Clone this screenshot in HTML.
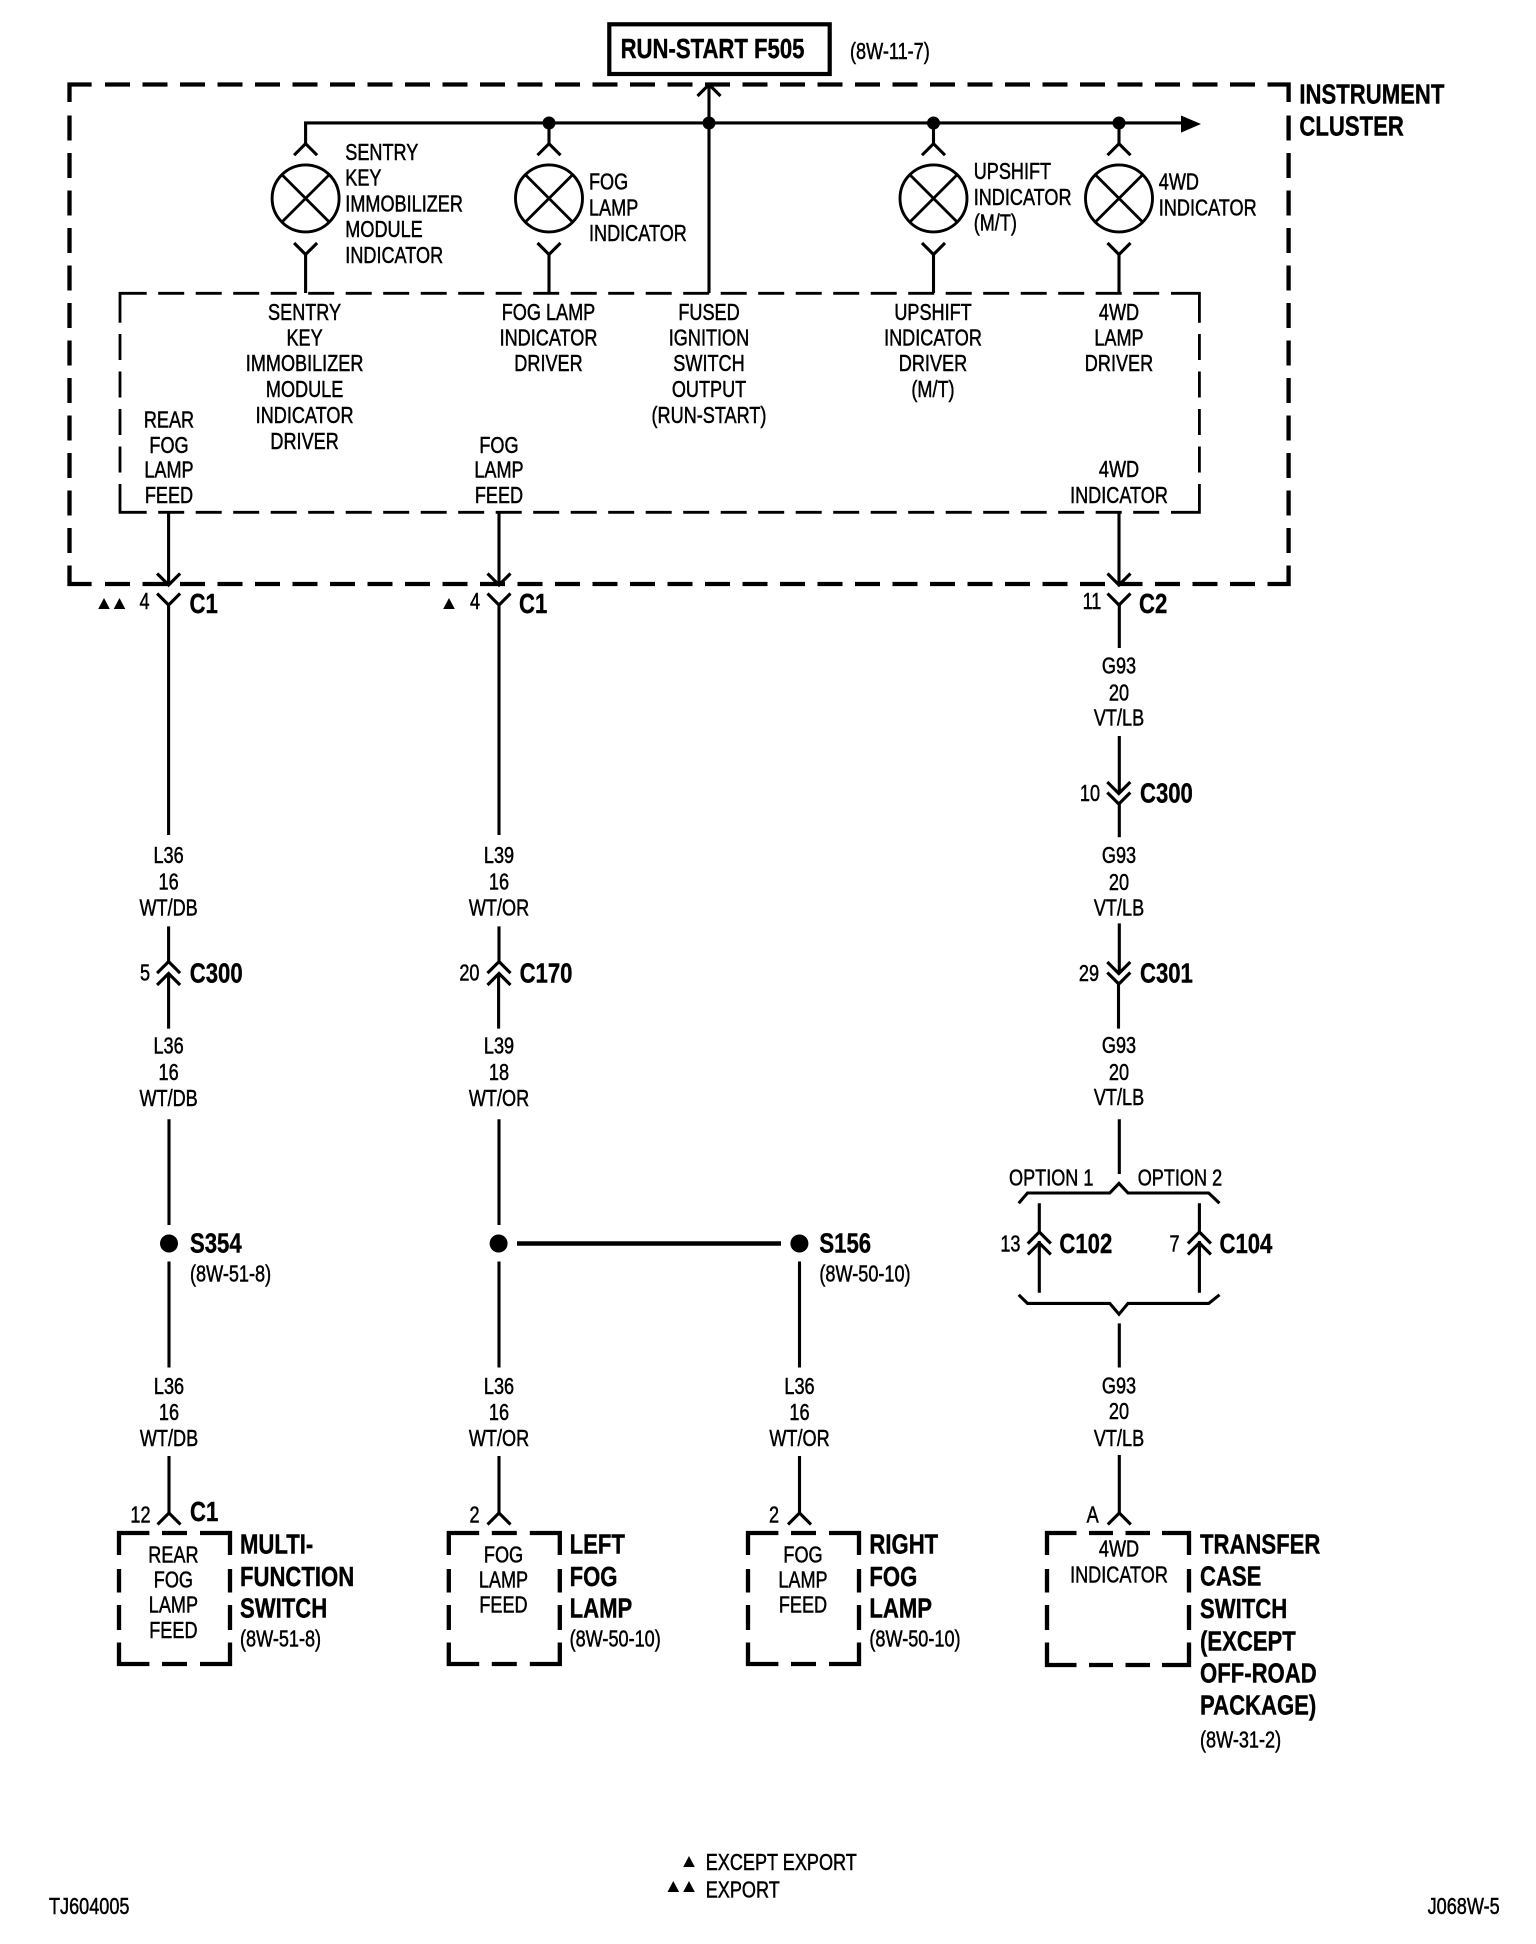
<!DOCTYPE html>
<html lang="en"><head><meta charset="utf-8"><title>Wiring diagram</title>
<style>
html,body{margin:0;padding:0;background:#fff}
svg{display:block}
text{font-family:"Liberation Sans",Arial,sans-serif;font-size:23.5px;fill:#000;stroke:#000;stroke-width:.5px}
.c,.l{transform:translateY(-.9px) scaleX(.77);transform-box:fill-box}
.c{text-anchor:middle;transform-origin:50% 50%}
.l{text-anchor:start;transform-origin:0 50%}
.b{font-weight:700;font-size:28px;transform:translateY(-1.4px) scaleX(.79);stroke-width:.4px}
.w{fill:none;stroke:#000;stroke-width:3.1}
.o{fill:none;stroke:#000;stroke-width:4.3}
.d{stroke-dasharray:25 12.5}
.i{fill:none;stroke:#000;stroke-width:2.8}
.e{stroke-dasharray:26 11.5}
</style></head><body>
<svg xmlns="http://www.w3.org/2000/svg" width="1536" height="1944" viewBox="0 0 1536 1944">
<rect width="1536" height="1944" fill="#fff"/>
<defs>
<path id="up" class="w" d="M-11.5 11.5L0 0L11.5 11.5"/>
<path id="dn" class="w" d="M-11.5 -11.5L0 0L11.5 -11.5"/>
<g id="lamp"><circle r="33.5" fill="none" stroke="#000" stroke-width="2.9"/><path class="i" d="M-23.5 -23.5L23.5 23.5M23.5 -23.5L-23.5 23.5"/></g>
<path id="box" class="o" d="M30.4 0H0V22M0 36V59.5M0 72V97M0 109.5V131H30.4M43 0H68M43 131H68M81 0H111V22M111 36V59.5M111 72V97M111 109.5V131H81"/>
<path id="tri" d="M0 -11L5.8 0H-5.8Z" fill="#000"/>
</defs>

<!-- top fuse -->
<rect x="609.3" y="24.3" width="220.4" height="49.7" fill="none" stroke="#000" stroke-width="4.2"/>
<text class="l b" x="620.6" y="59.5">RUN-START F505</text>
<text class="l" x="850" y="60">(8W-11-7)</text>

<!-- outer dashed -->
<path class="o" d="M69.5 102V84.5H91.6M69.5 565.5V584H91.6M1267.5 84.5H1288.6V102M1267.5 584H1288.6V565.5"/>
<path class="o d" d="M105 84.5H1260M105 584H1260M69.5 115.5V556M1288.6 115.5V556"/>
<text class="l b" x="1299.4" y="105">INSTRUMENT</text>
<text class="l b" x="1299.4" y="137">CLUSTER</text>

<!-- inner dashed -->
<path class="i" d="M120 322.7V293.3H146.7M120 484V512.3H146.7M1171 293.3H1199.4V322.7M1171 512.3H1199.4V484"/>
<path class="i e" d="M158.2 293.3H1165M158.2 512.3H1165M120 334V476M1199.4 334V476"/>

<!-- bus -->
<path class="w" d="M305.6 144V122.9H1185"/>
<path d="M1181 115.5L1201 124L1181 132.6Z" fill="#000"/>
<circle cx="549" cy="123" r="6.5"/><circle cx="709" cy="123" r="6.5"/><circle cx="933.5" cy="123" r="6.5"/><circle cx="1119" cy="123" r="6.5"/>
<path class="w" d="M549 123V144M933.5 123V144M1119 123V144M709 293V84.5"/>
<use href="#up" x="709" y="84.5"/>
<use href="#up" x="305.6" y="143.7"/><use href="#up" x="549" y="143.7"/><use href="#up" x="933.5" y="143.7"/><use href="#up" x="1119" y="143.7"/>
<use href="#lamp" x="305.6" y="198.4"/><use href="#lamp" x="549" y="198.4"/><use href="#lamp" x="933.5" y="198.4"/><use href="#lamp" x="1119" y="198.4"/>
<use href="#dn" x="305.6" y="254.5"/><use href="#dn" x="549" y="254.5"/><use href="#dn" x="933.5" y="254.5"/><use href="#dn" x="1119" y="254.5"/>
<path class="w" d="M305.6 254V293M549 254V293M933.5 254V293M1119 254V293"/>

<text class="l" x="345.3" y="161">SENTRY</text><text class="l" x="345.3" y="186.5">KEY</text><text class="l" x="345.3" y="212.2">IMMOBILIZER</text><text class="l" x="345.3" y="238">MODULE</text><text class="l" x="345.3" y="264">INDICATOR</text>
<text class="l" x="589" y="190.6">FOG</text><text class="l" x="589" y="216.3">LAMP</text><text class="l" x="589" y="242">INDICATOR</text>
<text class="l" x="973.7" y="180">UPSHIFT</text><text class="l" x="973.7" y="206">INDICATOR</text><text class="l" x="973.7" y="231.4">(M/T)</text>
<text class="l" x="1158.8" y="190.6">4WD</text><text class="l" x="1158.8" y="216.3">INDICATOR</text>

<text class="c" x="304.6" y="320.8">SENTRY</text><text class="c" x="304.6" y="346.5">KEY</text><text class="c" x="304.6" y="371.8">IMMOBILIZER</text><text class="c" x="304.6" y="398">MODULE</text><text class="c" x="304.6" y="424">INDICATOR</text><text class="c" x="304.6" y="449.8">DRIVER</text>
<text class="c" x="548.5" y="320.8">FOG LAMP</text><text class="c" x="548.5" y="346.5">INDICATOR</text><text class="c" x="548.5" y="371.8">DRIVER</text>
<text class="c" x="709" y="320.8">FUSED</text><text class="c" x="709" y="346.5">IGNITION</text><text class="c" x="709" y="371.8">SWITCH</text><text class="c" x="709" y="398">OUTPUT</text><text class="c" x="709" y="424">(RUN-START)</text>
<text class="c" x="933" y="320.8">UPSHIFT</text><text class="c" x="933" y="346.5">INDICATOR</text><text class="c" x="933" y="371.8">DRIVER</text><text class="c" x="933" y="398">(M/T)</text>
<text class="c" x="1119" y="320.8">4WD</text><text class="c" x="1119" y="346.5">LAMP</text><text class="c" x="1119" y="371.8">DRIVER</text>
<text class="c" x="169" y="428.6">REAR</text><text class="c" x="169" y="453.9">FOG</text><text class="c" x="169" y="478.4">LAMP</text><text class="c" x="169" y="504">FEED</text>
<text class="c" x="499" y="453.9">FOG</text><text class="c" x="499" y="478.4">LAMP</text><text class="c" x="499" y="504">FEED</text>
<text class="c" x="1119" y="478">4WD</text><text class="c" x="1119" y="504">INDICATOR</text>

<!-- wires from inner box -->
<path class="w" d="M168.6 513V584M499 513V584M1119 513V584"/>
<use href="#dn" x="168.6" y="585"/><use href="#dn" x="499" y="585"/><use href="#dn" x="1119" y="585"/>
<use href="#dn" x="168.6" y="605"/><use href="#dn" x="499" y="605"/><use href="#dn" x="1119" y="605"/>
<use href="#tri" x="104" y="609"/><use href="#tri" x="119.5" y="609"/><use href="#tri" x="449" y="609"/>
<text class="c" x="144.5" y="610">4</text><text class="l b" x="189.5" y="614.3">C1</text>
<text class="c" x="475" y="610">4</text><text class="l b" x="519" y="614.3">C1</text>
<text class="c" x="1092" y="610">11</text><text class="l b" x="1139" y="614.3">C2</text>

<!-- column A -->
<path class="w" d="M168.6 605V835M168.6 926.4V961.6M168.6 973V1028.6M169 1119.3V1225M169 1261.5V1367.5M169 1456V1512.5"/>
<text class="c" x="168.6" y="864">L36</text><text class="c" x="168.6" y="890.5">16</text><text class="c" x="168.6" y="916.5">WT/DB</text>
<use href="#up" x="168.6" y="961.6"/><use href="#up" x="168.6" y="973.5"/>
<text class="c" x="145" y="981.6">5</text><text class="l b" x="189.8" y="983.8">C300</text>
<text class="c" x="168.6" y="1054.6">L36</text><text class="c" x="168.6" y="1081">16</text><text class="c" x="168.6" y="1107">WT/DB</text>
<circle cx="169" cy="1243.5" r="9"/>
<text class="l b" x="190" y="1254">S354</text><text class="l" x="190" y="1282.5">(8W-51-8)</text>
<text class="c" x="169" y="1395">L36</text><text class="c" x="169" y="1421">16</text><text class="c" x="169" y="1447">WT/DB</text>
<use href="#up" x="169" y="1513"/>
<text class="c" x="140.5" y="1523.5">12</text><text class="l b" x="190" y="1522.5">C1</text>
<use href="#box" x="119" y="1533"/>
<text class="c" x="173.4" y="1563.5">REAR</text><text class="c" x="173.4" y="1588.5">FOG</text><text class="c" x="173.4" y="1613.5">LAMP</text><text class="c" x="173.4" y="1639">FEED</text>
<text class="l b" x="240" y="1555">MULTI-</text><text class="l b" x="240" y="1587.5">FUNCTION</text><text class="l b" x="240" y="1619">SWITCH</text><text class="l" x="240" y="1647.5">(8W-51-8)</text>

<!-- column B -->
<path class="w" d="M499 605V835M499 926.4V961.6M498.6 973V1028.6M499 1119.3V1225M499 1261.5V1367.5M499 1456V1512.5"/>
<text class="c" x="499" y="864">L39</text><text class="c" x="499" y="890.5">16</text><text class="c" x="499" y="916.5">WT/OR</text>
<use href="#up" x="499" y="961.6"/><use href="#up" x="499" y="973.5"/>
<text class="c" x="469.4" y="981.6">20</text><text class="l b" x="519.6" y="983.8">C170</text>
<text class="c" x="499" y="1054.6">L39</text><text class="c" x="499" y="1081">18</text><text class="c" x="499" y="1107">WT/OR</text>
<circle cx="498.6" cy="1243.5" r="9"/>
<path fill="none" stroke="#000" stroke-width="4.5" d="M517 1243.5H781"/>
<text class="c" x="499" y="1395">L36</text><text class="c" x="499" y="1421">16</text><text class="c" x="499" y="1447">WT/OR</text>
<use href="#up" x="499" y="1513"/>
<text class="c" x="474.5" y="1523.5">2</text>
<use href="#box" x="448.8" y="1533"/>
<text class="c" x="503.5" y="1563.5">FOG</text><text class="c" x="503.5" y="1588.5">LAMP</text><text class="c" x="503.5" y="1613.5">FEED</text>
<text class="l b" x="569.6" y="1555">LEFT</text><text class="l b" x="569.6" y="1587.5">FOG</text><text class="l b" x="569.6" y="1619">LAMP</text><text class="l" x="569.6" y="1647.5">(8W-50-10)</text>

<!-- column right fog -->
<circle cx="799.4" cy="1243.5" r="9"/>
<text class="l b" x="819.4" y="1254">S156</text><text class="l" x="819.4" y="1282.5">(8W-50-10)</text>
<path class="w" d="M799.5 1261.5V1367.5M799.5 1456V1512.5"/>
<text class="c" x="799.5" y="1395">L36</text><text class="c" x="799.5" y="1421">16</text><text class="c" x="799.5" y="1447">WT/OR</text>
<use href="#up" x="799.5" y="1513"/>
<text class="c" x="774" y="1523.5">2</text>
<use href="#box" x="748" y="1533"/>
<text class="c" x="803" y="1563.5">FOG</text><text class="c" x="803" y="1588.5">LAMP</text><text class="c" x="803" y="1613.5">FEED</text>
<text class="l b" x="869.4" y="1555">RIGHT</text><text class="l b" x="869.4" y="1587.5">FOG</text><text class="l b" x="869.4" y="1619">LAMP</text><text class="l" x="869.4" y="1647.5">(8W-50-10)</text>

<!-- column C -->
<path class="w" d="M1119.3 605V648M1119.3 736V793M1119.3 803.7V837.3M1119.3 923.4V973M1118.5 984V1028.6M1119.3 1119.3V1174M1119.3 1323.4V1367.5M1119.3 1455V1512.5"/>
<text class="c" x="1119" y="674.6">G93</text><text class="c" x="1119" y="701.4">20</text><text class="c" x="1119" y="726.3">VT/LB</text>
<use href="#dn" x="1118.8" y="793.5"/><use href="#dn" x="1118.8" y="804"/>
<text class="c" x="1090" y="802">10</text><text class="l b" x="1140" y="804">C300</text>
<text class="c" x="1119" y="864">G93</text><text class="c" x="1119" y="891">20</text><text class="c" x="1119" y="916.5">VT/LB</text>
<use href="#dn" x="1118.8" y="973.5"/><use href="#dn" x="1118.8" y="984"/>
<text class="c" x="1089" y="982">29</text><text class="l b" x="1140" y="983.8">C301</text>
<text class="c" x="1119" y="1054">G93</text><text class="c" x="1119" y="1081">20</text><text class="c" x="1119" y="1106">VT/LB</text>
<text class="l" x="1009" y="1186.3">OPTION 1</text><text class="l" x="1137.7" y="1186.3">OPTION 2</text>
<path class="w" d="M1018.7 1203.3L1027.5 1193H1109.8L1119 1183.4L1128 1193H1208.7L1219.5 1203.3"/>
<path class="w" d="M1039.3 1203.3V1232M1039.3 1241V1292.7M1199.4 1203.3V1232M1199.4 1241V1292.7"/>
<use href="#up" x="1039.3" y="1232"/><use href="#up" x="1039.3" y="1243"/><use href="#up" x="1199.4" y="1232"/><use href="#up" x="1199.4" y="1243"/>
<text class="c" x="1010.4" y="1252.3">13</text><text class="l b" x="1059.4" y="1254.5">C102</text>
<text class="c" x="1174.5" y="1252.3">7</text><text class="l b" x="1219.5" y="1254.5">C104</text>
<path class="w" d="M1018.7 1294.8L1027.5 1303.4H1109.8L1119 1314.2L1128 1303.4H1208.7L1219.5 1294.8"/>
<text class="c" x="1119" y="1394.4">G93</text><text class="c" x="1119" y="1420">20</text><text class="c" x="1119" y="1447">VT/LB</text>
<use href="#up" x="1119.3" y="1513"/>
<text class="c" x="1092.7" y="1523.6">A</text>
<path class="o" d="M1076.5 1533H1047V1555M1047 1569V1592.5M1047 1605V1630M1047 1642.5V1665H1076.5M1089 1533H1113M1089 1665H1113M1125.5 1533H1150M1125.5 1665H1150M1162 1533H1189V1555M1189 1569V1592.5M1189 1605V1630M1189 1642.5V1665H1162"/>
<text class="c" x="1119" y="1557.5">4WD</text><text class="c" x="1119" y="1583.3">INDICATOR</text>
<text class="l b" x="1200" y="1555">TRANSFER</text><text class="l b" x="1200" y="1587">CASE</text><text class="l b" x="1200" y="1619.4">SWITCH</text><text class="l b" x="1200" y="1651.7">(EXCEPT</text><text class="l b" x="1200" y="1684">OFF-ROAD</text><text class="l b" x="1200" y="1716">PACKAGE)</text>
<text class="l" x="1200" y="1748.5">(8W-31-2)</text>

<!-- legend -->
<use href="#tri" x="689" y="1867"/><use href="#tri" x="673.3" y="1892"/><use href="#tri" x="689" y="1892"/>
<text class="l" x="705.7" y="1870.7">EXCEPT EXPORT</text><text class="l" x="705.7" y="1898.3">EXPORT</text>
<text class="l" x="49" y="1915">TJ604005</text>
<text class="l" x="1427.6" y="1915">J068W-5</text>
</svg>
</body></html>
